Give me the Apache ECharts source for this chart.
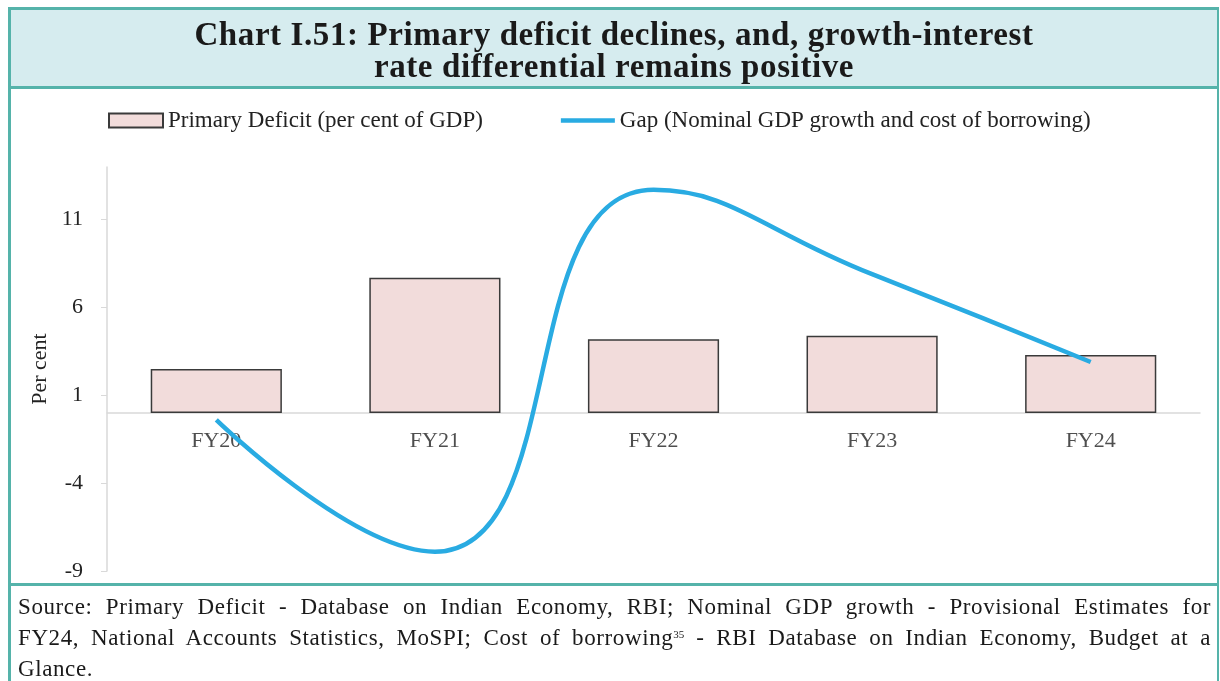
<!DOCTYPE html>
<html>
<head>
<meta charset="utf-8">
<script src="https://cdn.jsdelivr.net/npm/echarts@6/dist/echarts.min.js"></script>
<style>
  body { margin: 0; background: #fff; }
  #chart { position: absolute; left: 0; top: 0; width: 1220px; height: 681px; }
  .frame {
    position: absolute; left: 8px; top: 7px; width: 1211px; height: 720px;
    box-sizing: border-box; border: 3px solid #55b3aa; border-right-width: 2px;
    pointer-events: none;
  }
  .title {
    background: #d6ecef; border-bottom: 3px solid #55b3aa;
    text-align: center; font-family: "Liberation Serif", serif; font-weight: bold;
    font-size: 33px; letter-spacing: 0.6px; line-height: 32px; color: #1a1a1a;
    padding-top: 8px; height: 68px;
  }
  .plot { height: 494px; border-bottom: 3px solid #55b3aa; }
  .source {
    padding: 5px 6px 0 7px; font-family: "Liberation Serif", serif;
    font-size: 23px; line-height: 31px; color: #1a1a1a; letter-spacing: 0.6px;
  }
  .source div { text-align: justify; text-align-last: justify; white-space: nowrap; }
  .source div.last { text-align-last: left; }
  sup { font-size: 11px; line-height: 0; vertical-align: 7px; letter-spacing: 0; }
</style>
</head>
<body>
<div id="chart"></div>
<div class="frame">
  <div class="title">Chart I.51: Primary deficit declines, and, growth-interest<br>rate differential remains positive</div>
  <div class="plot"></div>
  <div class="source">
    <div>Source: Primary Deficit - Database on Indian Economy, RBI; Nominal GDP growth - Provisional Estimates for</div>
    <div>FY24, National Accounts Statistics, MoSPI; Cost of borrowing<sup>35</sup> - RBI Database on Indian Economy, Budget at a</div>
    <div class="last">Glance.</div>
  </div>
</div>
<script>
// 数据
const years = ['FY20', 'FY21', 'FY22', 'FY23', 'FY24']
const primaryDeficit = [2.5, 7.7, 4.2, 4.4, 3.3]
const gap = [-0.4, -7.9, 12.7, 7.9, 2.9]
const yTicks = [-9, -4, 1, 6, 11]

const serif = '"Liberation Serif", "Times New Roman", serif'
const barName = 'Primary Deficit (per cent of GDP)'
const lineName = 'Gap (Nominal GDP growth and cost of borrowing)'

const option = {
  animation: false,
  legend: {
    left: 108,
    top: 109,
    padding: 0,
    itemGap: 78,
    itemWidth: 54,
    itemHeight: 14,
    textStyle: { fontFamily: serif, fontSize: 23, color: '#222' },
    data: [
      { name: barName, icon: 'rect' },
      {
        name: lineName,
        icon: 'path://M0,0 H60 V5 H0 Z',
        itemStyle: { color: '#29abe2', borderWidth: 0 }
      }
    ]
  },
  grid: { left: 107, right: 20, top: 167, bottom: 110 },
  xAxis: {
    type: 'category',
    data: years,
    axisLine: { onZero: true, lineStyle: { color: '#d9d9d9', width: 1.5 } },
    axisTick: { show: false },
    axisLabel: { show: false }
  },
  yAxis: {
    type: 'value',
    min: -9,
    max: 14,
    interval: 5,
    name: 'Per cent',
    nameLocation: 'middle',
    nameGap: 52,
    nameTextStyle: { fontFamily: serif, fontSize: 22, color: '#222' },
    axisLine: { show: true, lineStyle: { color: '#d9d9d9', width: 1.5 } },
    axisTick: { show: true, length: 6, customValues: yTicks, lineStyle: { color: '#d9d9d9' } },
    splitLine: { show: false },
    axisLabel: { margin: 24, customValues: yTicks, fontFamily: serif, fontSize: 22, color: '#222' }
  },
  series: [
    {
      name: barName,
      type: 'bar',
      data: primaryDeficit,
      barWidth: '60%',
      itemStyle: { color: '#f2dcdb', borderColor: '#3a3a3a', borderWidth: 1.5 }
    },
    {
      // 类目标签放在零线下方
      name: 'labels',
      type: 'scatter',
      data: years.map(v => [v, 0]),
      symbolSize: 1,
      itemStyle: { color: 'transparent' },
      silent: true,
      z: 1,
      label: {
        show: true,
        position: 'bottom',
        distance: 17,
        formatter: p => p.value[0],
        fontFamily: serif,
        fontSize: 22,
        color: '#222'
      }
    },
    {
      name: lineName,
      type: 'line',
      data: gap,
      smooth: 0.5,
      symbol: 'none',
      z: 5,
      lineStyle: { color: '#29abe2', width: 4.5 },
      itemStyle: { color: '#29abe2' }
    }
  ]
}

const chart = echarts.init(document.getElementById('chart'))
chart.setOption(option)
</script>
</body>
</html>
